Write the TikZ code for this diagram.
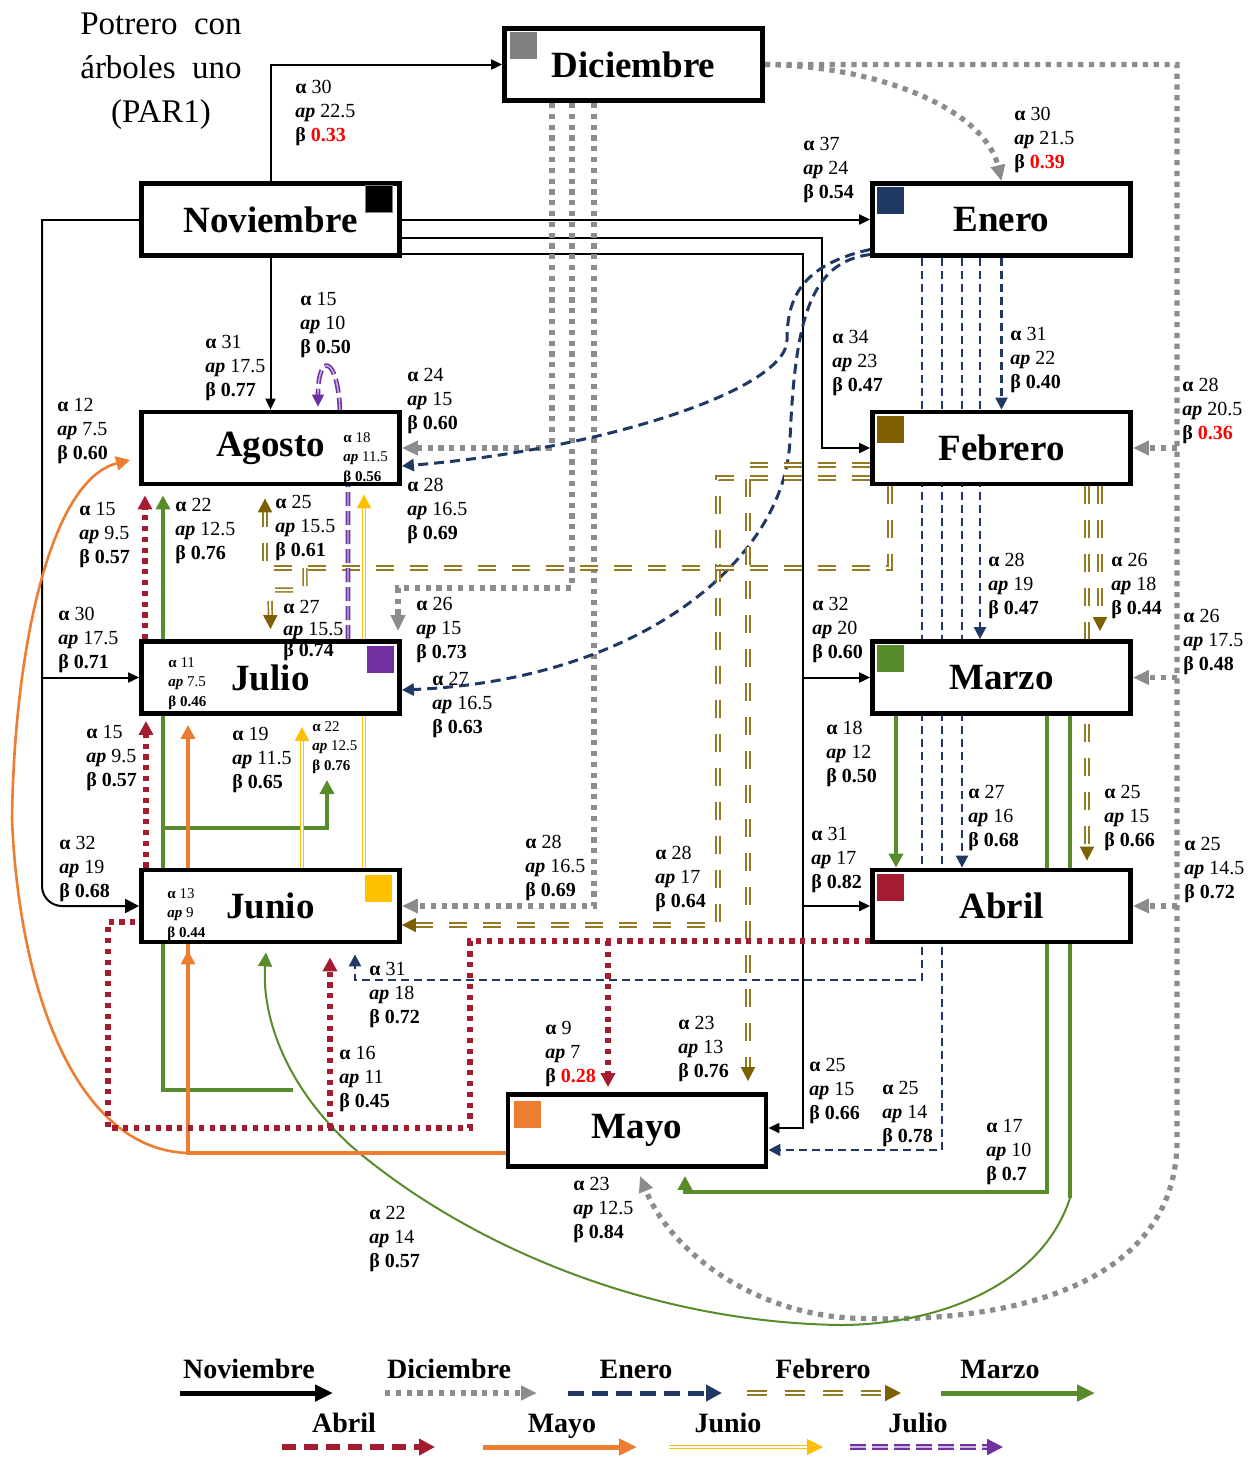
\documentclass[tikz,border=0pt]{standalone}
\usepackage{fontspec}
\setmainfont{Liberation Serif}
\usepackage{tikz}
\usetikzlibrary{positioning}
\usetikzlibrary{arrows.meta,backgrounds}
\usepackage{xcolor}
\definecolor{azul}{RGB}{31,56,100}
\definecolor{gris}{RGB}{140,140,140}
\definecolor{cafe}{RGB}{127,96,0}
\definecolor{cafeclaro}{RGB}{150,122,35}
\definecolor{verde}{RGB}{88,140,42}
\definecolor{naranja}{RGB}{237,125,49}
\definecolor{amarillo}{RGB}{255,192,0}
\definecolor{morado}{RGB}{112,48,160}
\definecolor{rojo}{RGB}{165,28,48}
\newcommand{\tri}[3]{\textbf{α} #1\\\textbf{\textit{ap}} #2\\\textbf{β #3}}

\begin{document}
\begin{tikzpicture}[
    x=0.5pt, y=-0.5pt,
    mes/.style={rectangle, draw, line width=2.4pt, fill=white, minimum width=129pt,
    minimum height=36pt, inner sep=0pt, font=\fontsize{18.5}{20}\selectfont\bfseries},
    marca/.style={rectangle, minimum size=13.5pt, inner sep=0pt},
    etiq/.style={anchor=north west, align=left, inner sep=0pt, font=\fontsize{10}{12}\selectfont},
    etiqp/.style={etiq, font=\fontsize{7.5}{9.7}\selectfont},
    leyenda/.style={anchor=base, inner sep=0pt, font=\fontsize{14}{16}\selectfont\bfseries},
    enov/.style={-{Triangle[length=5.5pt,width=5pt]}, line width=1pt},
    edic/.style={-{Triangle[length=8pt,width=7pt]}, gris, line width=2.6pt, dash pattern=on 2.6pt off 2.8pt},
    eene/.style={-{Triangle[length=6pt,width=6pt]}, azul, line width=1.5pt, dash pattern=on 5pt off 3pt},
    eene2/.style={eene, line width=1.2pt, dash pattern=on 4pt off 2.5pt},
    efeb/.style={-{Triangle[length=7pt,width=7pt,color=cafe]}, cafeclaro, double=white,
    double distance=1pt, line width=0.85pt, dash pattern=on 9pt off 8pt},
    emar/.style={-{Triangle[length=7pt,width=7pt]}, verde, line width=2pt},
    emay/.style={-{Triangle[length=7pt,width=7pt]}, naranja, line width=2pt},
    ejun/.style={-{Triangle[length=7pt,width=7pt,color=amarillo]}, amarillo, double=white,
    double distance=0.8pt, line width=0.6pt},
    ejul/.style={-{Triangle[length=6pt,width=6pt,color=morado]}, morado, double=morado!35!white,
    double distance=0.7pt, line width=0.8pt, dash pattern=on 7pt off 2.5pt},
    eabr/.style={-{Triangle[length=7pt,width=7pt]}, rojo, line width=2.6pt, dash pattern=on 2.6pt off 2.8pt}
    ]
\useasboundingbox (0,0) rectangle (1258,1457);

\node[align=center, inner sep=0pt, anchor=north, font=\fontsize{16.5}{22}\selectfont] (tit) at (161,12)
    {Potrero\hspace{0.5em}con\\árboles\hspace{0.5em}uno\\(PAR1)};

% meses
\node[mes] (nov) at (270.5,219.5) {Noviembre};
\node[mes] (dic) at (633.5,64.5) {Diciembre};
\node[mes] (ene) at (1001.5,219.5) {Enero};
\node[mes] (ago) at (270.5,448) {Agosto};
\node[mes] (feb) at (1001.5,448) {Febrero};
\node[mes] (jul) at (270.5,677.5) {Julio};
\node[mes] (mar) at (1001.5,677.5) {Marzo};
\node[mes] (jun) at (270.5,906) {Junio};
\node[mes] (abr) at (1001.5,906) {Abril};
\node[mes] (may) at (637,1130.5) {Mayo};

\node[marca, fill=black, draw=gray, anchor=north east] (mnov) at ([shift={(-9,4)}]nov.north east) {};
\node[marca, fill=gray, anchor=north west] (mdic) at ([shift={(7,5)}]dic.north west) {};
\node[marca, fill=azul, anchor=north west] (mene) at ([shift={(6,5)}]ene.north west) {};
\node[marca, fill=cafe, anchor=north west] (mfeb) at ([shift={(6,6)}]feb.north west) {};
\node[marca, fill=verde, anchor=north west] (mmar) at ([shift={(6,5)}]mar.north west) {};
\node[marca, fill=rojo, anchor=north west] (mabr) at ([shift={(6,6)}]abr.north west) {};
\node[marca, fill=naranja, anchor=north west] (mmay) at ([shift={(8,8)}]may.north west) {};
\node[marca, fill=morado, anchor=north east] (mjul) at ([shift={(-8,6)}]jul.north east) {};
\node[marca, fill=amarillo, anchor=north east] (mjun) at ([shift={(-10,7)}]jun.north east) {};

\begin{scope}[on background layer]
%Noviembre
\coordinate (tn) at (803,600);
\coordinate (tw) at (42,219.5);
\draw[enov] (nov.north) |- (dic.west);
\draw[enov] (nov) -- (ene);
\draw[enov] ([shift={(0,18.5)}]nov.east) -| (822,448) -- (feb.west);
\draw[enov] ([shift={(0,34)}]nov.east) -| (803,1128) -- ([shift={(0,-2.5)}]may.east);
\draw[enov] (mar.west -| tn) -- (mar.west);
\draw[enov] (abr.west -| tn) -- (abr.west);
\draw[enov] (nov) -- (ago);
\draw[enov] (nov.west) -- (tw) |- (jul.west);
\draw[enov, -{Triangle[length=7pt,width=7pt]}, rounded corners=10pt] (tw) |- (jun.west);
%Diciembre
\coordinate (tg) at (1177,300);
\draw[edic] (dic.east) -- (1177,64.5) -- (1177,1140) .. controls (1177,1290) and (1000,1325) .. (850,1318)
    .. controls (750,1312) and (670,1250) .. ([shift={(3,7)}]may.south);
\draw[edic] (feb.east -| tg) -- (feb.east);
\draw[edic] (mar.east -| tg) -- (mar.east);
\draw[edic] (abr.east -| tg) -- (abr.east);
\draw[edic] (dic.east) .. controls (880,66) and (985,110) .. (ene.north);
\draw[edic] ([shift={(-81.5,0)}]dic.south) |- (ago.east);
\draw[edic] ([shift={(-61.5,0)}]dic.south) |- (398,588) -- ([shift={(127.5,-8)}]jul.north);
\draw[edic] ([shift={(-39.5,0)}]dic.south) |- (jun.east);
%Enero
\draw[eene] ([shift={(0,30)}]ene.west) .. controls (800,265) and (787,300) .. (787,340)
    .. controls (787,390) and (600,450) .. ([shift={(0,18)}]ago.east);
\draw[eene] ([shift={(0,35)}]ene.west) .. controls (810,262) and (795,320) .. (790,440)
    .. controls (785,560) and (640,680) .. ([shift={(0,12.5)}]jul.east);
\draw[eene2] (ene) -- (feb);
\draw[eene2] ([shift={(-21.5,0)}]ene.south) -- ([shift={(-21.5,0)}]mar.north);
\draw[eene2] ([shift={(-39.5,0)}]ene.south) -- ([shift={(-39.5,0)}]abr.north);
\draw[eene2] ([shift={(-59.5,0)}]ene.south) |- ([shift={(0,19.5)}]may.east);
\draw[eene2] ([shift={(-79.5,0)}]ene.south) |- (355,980) -- ([shift={(84.5,10)}]jun.south);
%Febrero
\coordinate (bf) at (305,568);
\draw[efeb] ([shift={(0,17)}]feb.west) -| ([shift={(111,-11)}]may.north);
\draw[efeb] ([shift={(0,30)}]feb.west) -| (718,925) -- ([shift={(0,19)}]jun.east);
\draw[efeb] ([shift={(-111.5,0)}]feb.south) |- (265,568) -- ([shift={(-5.5,12)}]ago.south);
\draw[efeb] (bf) |- (270,590) -- ([shift={(0,-10)}]jul.north);
\draw[efeb] ([shift={(98.5,0)}]feb.south) -- ([shift={(98.5,-8)}]mar.north);
\draw[efeb] ([shift={(85.5,0)}]feb.south) -- ([shift={(85.5,-7)}]abr.north);
%Marzo
\coordinate (cv) at (1070,1198);
\coordinate (bv) at (293,1090);
\coordinate (bj) at (163,828);
\coordinate (pj) at (327,780);
\draw[emar] ([shift={(-105.5,0)}]mar.south) -- ([shift={(-105.5,0)}]abr.north);
\draw[emar] ([shift={(45.5,0)}]mar.south) |- (685,1192) -- ([shift={(48,7)}]may.south);
\draw[emar, -] ([shift={(68.5,0)}]mar.south) -- (cv);
\draw[emar, line width=1pt] (cv) .. controls (1040,1290) and (930,1325) .. (840,1325)
    .. controls (640,1322) and (460,1240) .. (350,1145)
    .. controls (280,1080) and (262,1010) .. ([shift={(-4.5,8)}]jun.south);
\draw[emar] (bv) -| ([shift={(-107.5,9)}]ago.south);
\draw[emar] (bj) -| (pj);
%Mayo
\coordinate (bo) at (188,1153);
\draw[emay] ([shift={(0,22.5)}]may.west) -| ([shift={(-82.5,6)}]jun.south);
\draw[emay] (bo) -- ([shift={(-82.5,9)}]jul.south);
\draw[emay, line width=1.3pt] (bo) .. controls (80,1150) and (20,1000) .. (12,820)
    .. controls (14,650) and (50,480) .. ([shift={(-9,12)}]ago.west);
%Junio
\draw[ejun] ([shift={(31.5,0)}]jun.north) -- ([shift={(31.5,11)}]jul.south);
\draw[ejun] ([shift={(93.5,0)}]jun.north) -- ([shift={(93.5,8)}]ago.south);
%Julio
\draw[ejul] ([shift={(77.5,0)}]jul.north) -- (348,470) -- (340,412) .. controls (338,355) and (318,352)
    .. ([shift={(47.5,-3)}]ago.north);
%Abril
\coordinate (ra) at (608,941);
\coordinate (rj) at (330,1128);
\draw[eabr, -] ([shift={(0,35)}]abr.west) -| (470,1128) -| (108,922) -- ([shift={(0,16)}]jun.west);
\draw[eabr] ([shift={(-124.5,0)}]jun.north) -- ([shift={(-124.5,5)}]jul.south);
\draw[eabr] ([shift={(-125.5,0)}]jul.north) -- ([shift={(-125.5,9)}]ago.south);
\draw[eabr] (ra) -- ([shift={(-29,-5)}]may.north);
\draw[eabr] (rj) -- ([shift={(59.5,13)}]jun.south);
\end{scope}

% etiquetas
\node[etiq] (e-nd) at (295,80) {\tri{30}{22.5}{\textcolor{red}{0.33}}};
\node[etiq] (e-na) at (205,335) {\tri{31}{17.5}{0.77}};
\node[etiq] (e-ja) at (300,292) {\tri{15}{10}{0.50}};
\node[etiq] (e-ma) at (57,398) {\tri{12}{7.5}{0.60}};
\node[etiqp] (i-ago) at (343,432) {\tri{18}{11.5}{0.56}};
\node[etiq] (e-de) at (1014,107) {\tri{30}{21.5}{\textcolor{red}{0.39}}};
\node[etiq] (e-ne) at (803,137) {\tri{37}{24}{0.54}};
\node[etiq] (e-nf) at (832,330) {\tri{34}{23}{0.47}};
\node[etiq] (e-ef) at (1010,327) {\tri{31}{22}{0.40}};
\node[etiq] (e-df) at (1182,378) {\tri{28}{20.5}{\textcolor{red}{0.36}}};
\node[etiq] (e-da) at (407,368) {\tri{24}{15}{0.60}};
\node[etiq] (e-ea) at (407,478) {\tri{28}{16.5}{0.69}};
\node[etiq] (e-aa) at (79,502) {\tri{15}{9.5}{0.57}};
\node[etiq] (e-mra) at (175,498) {\tri{22}{12.5}{0.76}};
\node[etiq] (e-fa) at (275,495) {\tri{25}{15.5}{0.61}};
\node[etiq, font=\fontsize{10}{10.8}\selectfont] (e-fj) at (283,600) {\tri{27}{15.5}{0.74}};
\node[etiq] (e-dj) at (416,597) {\tri{26}{15}{0.73}};
\node[etiq] (e-ej) at (432,672) {\tri{27}{16.5}{0.63}};
\node[etiq] (e-nj) at (58,607) {\tri{30}{17.5}{0.71}};
\node[etiqp] (i-jul) at (168,657) {\tri{11}{7.5}{0.46}};
\node[etiq] (e-aj) at (86,725) {\tri{15}{9.5}{0.57}};
\node[etiq] (e-myj) at (232,727) {\tri{19}{11.5}{0.65}};
\node[etiqp] (e-jnj) at (312,721) {\tri{22}{12.5}{0.76}};
\node[etiq] (e-nn) at (59,836) {\tri{32}{19}{0.68}};
\node[etiqp] (i-jun) at (167,888) {\tri{13}{9}{0.44}};
\node[etiq] (e-dn) at (525,835) {\tri{28}{16.5}{0.69}};
\node[etiq] (e-fn) at (655,846) {\tri{28}{17}{0.64}};
\node[etiq] (e-nm) at (812,597) {\tri{32}{20}{0.60}};
\node[etiq] (e-em) at (988,553) {\tri{28}{19}{0.47}};
\node[etiq] (e-fm) at (1111,553) {\tri{26}{18}{0.44}};
\node[etiq] (e-dm) at (1183,609) {\tri{26}{17.5}{0.48}};
\node[etiq] (e-mab) at (826,721) {\tri{18}{12}{0.50}};
\node[etiq] (e-eab) at (968,785) {\tri{27}{16}{0.68}};
\node[etiq] (e-fab) at (1104,785) {\tri{25}{15}{0.66}};
\node[etiq] (e-nab) at (811,827) {\tri{31}{17}{0.82}};
\node[etiq] (e-dab) at (1184,837) {\tri{25}{14.5}{0.72}};
\node[etiq] (e-en) at (369,962) {\tri{31}{18}{0.72}};
\node[etiq] (e-an) at (339,1046) {\tri{16}{11}{0.45}};
\node[etiq] (e-mn) at (369,1206) {\tri{22}{14}{0.57}};
\node[etiq] (e-amy) at (545,1021) {\tri{9}{7}{\textcolor{red}{0.28}}};
\node[etiq] (e-fmy) at (678,1016) {\tri{23}{13}{0.76}};
\node[etiq] (e-nmy) at (809,1058) {\tri{25}{15}{0.66}};
\node[etiq] (e-emy) at (882,1081) {\tri{25}{14}{0.78}};
\node[etiq] (e-mmy) at (986,1119) {\tri{17}{10}{0.7}};
\node[etiq] (e-dmy) at (573,1177) {\tri{23}{12.5}{0.84}};

% leyenda
\node[leyenda] (lnov) at (249,1378) {Noviembre};
\node[leyenda] (ldic) at (449,1378) {Diciembre};
\node[leyenda] (lene) at (636,1378) {Enero};
\node[leyenda] (lfeb) at (823,1378) {Febrero};
\node[leyenda] (lmar) at (1000,1378) {Marzo};
\node[leyenda] (labr) at (344,1432) {Abril};
\node[leyenda] (lmay) at (562,1432) {Mayo};
\node[leyenda] (ljun) at (728,1432) {Junio};
\node[leyenda] (ljul) at (918,1432) {Julio};
\draw[enov, line width=2.5pt, -{Triangle[length=9pt,width=8pt]}] ([shift={(-69,15)}]lnov.base) -- ([shift={(84,15)}]lnov.base);
\draw[edic] ([shift={(-64,15)}]ldic.base) -- ([shift={(88,15)}]ldic.base);
\draw[eene, line width=2.5pt, dash pattern=on 8pt off 4pt, -{Triangle[length=8pt,width=8pt]}] ([shift={(-68,15)}]lene.base) -- ([shift={(86,15)}]lene.base);
\draw[efeb, line width=1pt, dash pattern=on 10pt off 9pt, -{Triangle[length=8pt,width=8pt,color=cafe]}] ([shift={(-76,15)}]lfeb.base) -- ([shift={(78,15)}]lfeb.base);
\draw[emar, line width=2.5pt, -{Triangle[length=9pt,width=8pt]}] ([shift={(-59,15)}]lmar.base) -- ([shift={(95,15)}]lmar.base);
\draw[eabr, dash pattern=on 7pt off 4pt, -{Triangle[length=8pt,width=8pt]}] ([shift={(-62,15)}]labr.base) -- ([shift={(91,15)}]labr.base);
\draw[emay, line width=2.5pt, -{Triangle[length=9pt,width=8pt]}] ([shift={(-79,15)}]lmay.base) -- ([shift={(75,15)}]lmay.base);
\draw[ejun, -{Triangle[length=8pt,width=8pt,color=amarillo]}] ([shift={(-59,15)}]ljun.base) -- ([shift={(95,15)}]ljun.base);
\draw[ejul, line width=1.1pt, dash pattern=on 8pt off 3pt, -{Triangle[length=8pt,width=8pt,color=morado]}] ([shift={(-68,15)}]ljul.base) -- ([shift={(85,15)}]ljul.base);
\end{tikzpicture}
\end{document}
